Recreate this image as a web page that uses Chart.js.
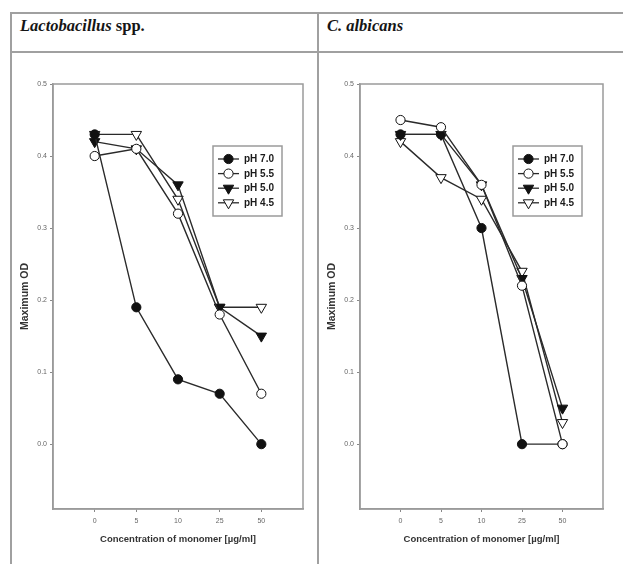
<!DOCTYPE html>
<html><head><meta charset="utf-8">
<script src="https://cdn.jsdelivr.net/npm/chart.js@4"></script>
<style>
html,body{margin:0;padding:0;background:#fff;width:623px;height:564px;overflow:hidden;position:relative;}
.rule{position:absolute;background:#a0a0a0;}
.ttl{position:absolute;font-family:"Liberation Serif","Times New Roman",serif;font-weight:bold;font-size:16.5px;line-height:17px;color:#151515;white-space:nowrap;}
canvas{position:absolute;}
</style></head><body>
<div class="rule" style="left:10px;top:12px;width:613px;height:2px"></div>
<div class="rule" style="left:10px;top:51px;width:613px;height:2px"></div>
<div class="rule" style="left:10px;top:12px;width:2px;height:552px"></div>
<div class="rule" style="left:317px;top:12px;width:2px;height:552px"></div>
<div class="ttl" style="left:20px;top:17px"><i>Lactobacillus</i> spp.</div>
<div class="ttl" style="left:327px;top:17px"><i>C. albicans</i></div>
<canvas id="c1" width="305" height="511" style="left:12px;top:53px"></canvas>
<canvas id="c2" width="304" height="511" style="left:319px;top:53px"></canvas>
<script>
const categories = ['0', '5', '10', '25', '50'];
const seriesNames = ['pH 7.0', 'pH 5.5', 'pH 5.0', 'pH 4.5'];
const yTickValues = [0.0, 0.1, 0.2, 0.3, 0.4, 0.5];

const lactoPH70 = [0.43, 0.19, 0.09, 0.07, 0.00];
const lactoPH55 = [0.40, 0.41, 0.32, 0.18, 0.07];
const lactoPH50 = [0.42, 0.41, 0.36, 0.19, 0.15];
const lactoPH45 = [0.43, 0.43, 0.34, 0.19, 0.19];

const albPH70 = [0.43, 0.43, 0.30, 0.00, 0.00];
const albPH55 = [0.45, 0.44, 0.36, 0.22, 0.00];
const albPH50 = [0.43, 0.43, 0.36, 0.23, 0.05];
const albPH45 = [0.42, 0.37, 0.34, 0.24, 0.03];

const SANS = '"Liberation Sans", Arial, sans-serif';
const styles = [
  {fill: '#111', style: 'circle', r: 4.6, rot: 0},
  {fill: '#fff', style: 'circle', r: 4.6, rot: 0},
  {fill: '#111', style: 'triangle', r: 6, rot: 180},
  {fill: '#fff', style: 'triangle', r: 6, rot: 180}
];

function drawMarker(ctx, st, x, y) {
  ctx.save();
  ctx.fillStyle = st.fill; ctx.strokeStyle = '#111'; ctx.lineWidth = 1;
  ctx.beginPath();
  if (st.style === 'circle') {
    ctx.arc(x, y, st.r, 0, Math.PI * 2);
  } else {
    const r = st.r;
    ctx.moveTo(x, y + r);
    ctx.lineTo(x - r * Math.sin(Math.PI / 3), y - r / 2);
    ctx.lineTo(x + r * Math.sin(Math.PI / 3), y - r / 2);
    ctx.closePath();
  }
  ctx.fill(); ctx.stroke();
  ctx.restore();
}

const framePlugin = {
  id: 'frameLegend',
  beforeDatasetsDraw(chart) {
    const a = chart.chartArea, ctx = chart.ctx;
    ctx.save();
    ctx.strokeStyle = '#9a9a9a'; ctx.lineWidth = 1.5;
    ctx.strokeRect(a.left, a.top, a.right - a.left, a.bottom - a.top);
    ctx.restore();
  },
  afterDraw(chart) {
    const a = chart.chartArea, ctx = chart.ctx;
    const w = 69, h = 70;
    const left = a.right - 21 - w, top = a.top + 62;
    ctx.save();
    ctx.fillStyle = '#fff';
    ctx.fillRect(left, top, w, h);
    ctx.strokeStyle = '#9a9a9a'; ctx.lineWidth = 1.5;
    ctx.strokeRect(left, top, w, h);
    ctx.font = 'bold 10px ' + SANS;
    ctx.textBaseline = 'middle';
    chart.data.datasets.forEach((ds, i) => {
      const y = top + 13 + i * 14.6;
      ctx.strokeStyle = '#2a2a2a'; ctx.lineWidth = 1.3;
      ctx.beginPath(); ctx.moveTo(left + 5, y); ctx.lineTo(left + 26, y); ctx.stroke();
      drawMarker(ctx, styles[i], left + 15.5, y);
      ctx.fillStyle = '#1a1a1a';
      ctx.fillText(ds.label, left + 31, y + 0.5);
    });
    ctx.restore();
  }
};

function makeChart(id, seriesList, orders, padRight) {
  const datasets = seriesList.map((vals, i) => ({
    label: seriesNames[i],
    data: vals.map((v, k) => ({x: k, y: v})),
    borderColor: '#2a2a2a',
    borderWidth: 1.4,
    backgroundColor: styles[i].fill,
    pointBackgroundColor: styles[i].fill,
    pointBorderColor: '#111',
    pointBorderWidth: 1,
    pointStyle: styles[i].style,
    pointRadius: styles[i].r,
    pointRotation: styles[i].rot,
    pointHoverRadius: styles[i].r,
    tension: 0,
    fill: false,
    order: orders[i]
  }));
  return new Chart(document.getElementById(id), {
    type: 'line',
    data: {datasets},
    options: {
      responsive: false,
      animation: false,
      devicePixelRatio: 1,
      layout: {padding: {left: 0, top: 31, right: padRight, bottom: 15}},
      plugins: {legend: {display: false}, tooltip: {enabled: false}},
      scales: {
        x: {
          type: 'linear', min: -1, max: 5,
          afterBuildTicks: s => { s.ticks = categories.map((c, i) => ({value: i})); },
          afterFit: s => { s.height = 40; },
          ticks: {
            callback: v => categories[v],
            font: {family: SANS, size: 7}, color: '#666', padding: 5, maxRotation: 0
          },
          grid: {display: true, drawOnChartArea: false, drawTicks: true, tickLength: 3, color: '#888'},
          border: {display: true, color: '#9a9a9a', width: 1.5},
          title: {display: true, text: 'Concentration of monomer [\u00b5g/ml]',
            font: {family: SANS, size: 9.5, weight: 'bold'}, color: '#333', padding: {top: 0, bottom: 4}}
        },
        y: {
          type: 'linear', min: -0.09, max: 0.5,
          afterBuildTicks: s => { s.ticks = yTickValues.map(v => ({value: v})); },
          afterFit: s => { s.width = 41; },
          ticks: {
            callback: v => v.toFixed(1),
            font: {family: SANS, size: 7}, color: '#666', padding: 3
          },
          grid: {display: true, drawOnChartArea: false, drawTicks: true, tickLength: 3, color: '#888'},
          border: {display: true, color: '#9a9a9a', width: 1.5},
          title: {display: true, text: 'Maximum OD',
            font: {family: SANS, size: 10.5, weight: 'bold'}, color: '#333', padding: {top: 7, bottom: 0}}
        }
      }
    },
    plugins: [framePlugin]
  });
}

makeChart('c1', [lactoPH70, lactoPH55, lactoPH50, lactoPH45], [0, 1, 2, 3], 14);
makeChart('c2', [albPH70, albPH55, albPH50, albPH45], [1, 0, 2, 3], 20);
</script>
</body></html>
